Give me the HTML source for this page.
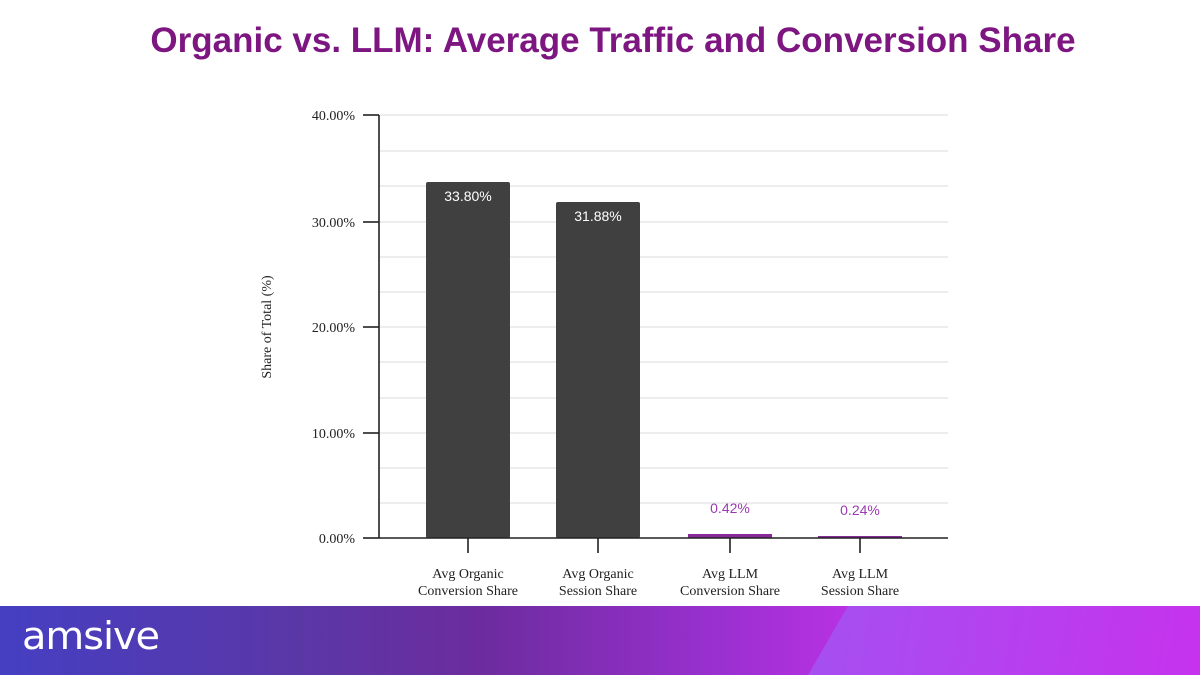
<!DOCTYPE html>
<html><head><style>
body{margin:0;width:1200px;height:675px;overflow:hidden;background:#fff;font-family:"Liberation Sans",sans-serif;position:relative}
.title{position:absolute;top:21px;left:0;width:1226px;text-align:center;font-size:35px;font-weight:bold;color:#7d1680;}
.footer{position:absolute;left:0;top:606px;width:1200px;height:69px;background:linear-gradient(90deg,#453fc2 0%,#5b37a6 25%,#6c2c9e 40%,#9a30d0 60%,#c432ea 75%);overflow:hidden}
.footer .rt{position:absolute;top:0;left:0;width:1200px;height:69px;background:linear-gradient(100deg,#5a98f8 0%,#8a68f2 40%,#c632ee 100%);clip-path:polygon(848px 0,1200px 0,1200px 69px,808px 69px)}
.logo{position:absolute;left:22px;top:614px;color:#fff;font-size:38px;letter-spacing:-1px;font-family:"DejaVu Sans",sans-serif;transform:scaleX(1.05);transform-origin:left top}
</style></head><body>
<div class="title">Organic vs. LLM: Average Traffic and Conversion Share</div>
<svg width="1200" height="606" style="position:absolute;left:0;top:0" font-family="Liberation Serif, serif">
<g stroke="#e2e2e2" stroke-width="1.3">
<line x1="380" x2="948" y1="115" y2="115"/><line x1="380" x2="948" y1="151" y2="151"/><line x1="380" x2="948" y1="186" y2="186"/><line x1="380" x2="948" y1="222" y2="222"/><line x1="380" x2="948" y1="257" y2="257"/><line x1="380" x2="948" y1="292" y2="292"/><line x1="380" x2="948" y1="327" y2="327"/><line x1="380" x2="948" y1="362" y2="362"/><line x1="380" x2="948" y1="398" y2="398"/><line x1="380" x2="948" y1="433" y2="433"/><line x1="380" x2="948" y1="468" y2="468"/><line x1="380" x2="948" y1="503" y2="503"/>
</g>
<rect x="426" y="182" width="84" height="356" rx="2" fill="#404040"/>
<rect x="556" y="202" width="84" height="336" rx="2" fill="#404040"/>
<rect x="688" y="534" width="84" height="4" fill="#8a2a9a"/>
<rect x="818" y="536" width="84" height="2" fill="#8a2a9a"/>
<g font-family="Liberation Sans, sans-serif" font-size="14" text-anchor="middle">
<text x="468" y="201" fill="#fff">33.80%</text>
<text x="598" y="221" fill="#fff">31.88%</text>
<text x="730" y="513" fill="#9a3ab0">0.42%</text>
<text x="860" y="515" fill="#9a3ab0">0.24%</text>
</g>
<g stroke="#222" stroke-width="1.6" fill="none">
<line x1="379" y1="115" x2="379" y2="538"/><line x1="379" y1="538" x2="948" y2="538"/>
<line x1="363" y1="115" x2="379" y2="115"/><line x1="363" y1="222" x2="379" y2="222"/><line x1="363" y1="327" x2="379" y2="327"/><line x1="363" y1="433" x2="379" y2="433"/><line x1="363" y1="538" x2="379" y2="538"/>
<line x1="468" y1="538" x2="468" y2="553"/><line x1="598" y1="538" x2="598" y2="553"/><line x1="730" y1="538" x2="730" y2="553"/><line x1="860" y1="538" x2="860" y2="553"/>
</g>
<g font-size="14" fill="#222" text-anchor="end">
<text x="355" y="120">40.00%</text><text x="355" y="227">30.00%</text><text x="355" y="332">20.00%</text><text x="355" y="438">10.00%</text><text x="355" y="543">0.00%</text>
</g>
<text transform="translate(271,327) rotate(-90)" font-size="14" fill="#222" text-anchor="middle">Share of Total (%)</text>
<g font-size="14" fill="#222" text-anchor="middle">
<text x="468" y="578">Avg Organic</text><text x="468" y="595">Conversion Share</text>
<text x="598" y="578">Avg Organic</text><text x="598" y="595">Session Share</text>
<text x="730" y="578">Avg LLM</text><text x="730" y="595">Conversion Share</text>
<text x="860" y="578">Avg LLM</text><text x="860" y="595">Session Share</text>
</g>
</svg>
<div class="footer"><div class="rt"></div></div>
<div class="logo">amsive</div>
</body></html>
